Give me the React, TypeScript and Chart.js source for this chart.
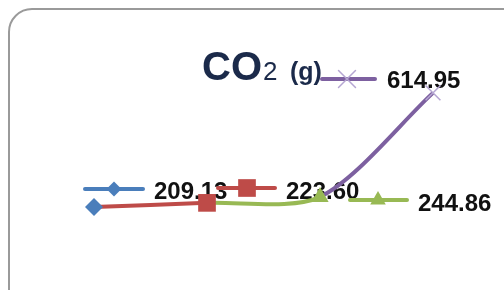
import React, { useEffect, useRef } from 'react';
import { Chart, registerables } from 'chart.js';

Chart.register(...registerables);

// ---- data ----
const categories = ['1', '2', '3', '4'];
const values = [209.13, 223.6, 244.86, 614.95];
const legendLabels = values.map((v) => v.toFixed(2));
const yMin = 0;
const yMax = 700;

// ---- styles ----
const seriesColors = ['#4A7EBB', '#BE4B48', '#98B954', '#7D60A0'];
const markerStroke = ['#4A7EBB', '#BE4B48', '#98B954', '#B5A6D2'];
const pointStyles = ['rectRot', 'rect', 'triangle', 'crossRot'];
const dataRadii = [9, 12.5, 10, 10.5];
const legendRadii = [7.5, 12.5, 9, 12];
const titleColor = '#1B2A4A';

// ---- layout of the free-floating legend (Excel style) ----
const legendLayout = [
  { x0: 85, x1: 143, y: 189, mx: 114, tx: 154, ty: 199 },
  { x0: 218, x1: 275, y: 188, mx: 247, tx: 286, ty: 199 },
  { x0: 350, x1: 407, y: 200, mx: 378, tx: 418, ty: 211 },
  { x0: 322, x1: 375, y: 79, mx: 347, tx: 387, ty: 88 },
];

function drawMarker(ctx: CanvasRenderingContext2D, style: string, x: number, y: number, r: number, fill: string, stroke: string) {
  ctx.save();
  ctx.fillStyle = fill;
  ctx.strokeStyle = stroke;
  ctx.beginPath();
  if (style === 'rectRot') {
    ctx.moveTo(x, y - r);
    ctx.lineTo(x + r, y);
    ctx.lineTo(x, y + r);
    ctx.lineTo(x - r, y);
    ctx.closePath();
    ctx.fill();
  } else if (style === 'rect') {
    const s = Math.SQRT1_2 * r;
    ctx.rect(x - s, y - s, 2 * s, 2 * s);
    ctx.fill();
  } else if (style === 'triangle') {
    const h = 1.5 * r;
    const half = (Math.sqrt(3) / 2) * r;
    ctx.moveTo(x, y - r);
    ctx.lineTo(x + half, y + h - r);
    ctx.lineTo(x - half, y + h - r);
    ctx.closePath();
    ctx.fill();
  } else {
    const s = Math.SQRT1_2 * r;
    ctx.lineWidth = 1.5;
    ctx.moveTo(x - s, y - s);
    ctx.lineTo(x + s, y + s);
    ctx.moveTo(x + s, y - s);
    ctx.lineTo(x - s, y + s);
    ctx.stroke();
  }
  ctx.restore();
}

const decorPlugin = {
  id: 'decor',
  beforeDatasetsDraw(chart: any) {
    const ctx: CanvasRenderingContext2D = chart.ctx;
    ctx.save();
    // rounded frame (extends past right/bottom edge)
    ctx.strokeStyle = '#9A9A9A';
    ctx.lineWidth = 2;
    ctx.beginPath();
    (ctx as any).roundRect(9, 9, 530, 310, 23);
    ctx.stroke();

    // title CO2 (g)
    ctx.fillStyle = titleColor;
    ctx.textBaseline = 'alphabetic';
    ctx.font = 'bold 40px "Liberation Sans", Arial, sans-serif';
    ctx.fillText('CO', 202, 80);
    const w1 = ctx.measureText('CO').width;
    ctx.font = '26px "Liberation Sans", Arial, sans-serif';
    ctx.fillText('2', 202 + w1 + 1, 80);
    ctx.font = 'bold 25px "Liberation Sans", Arial, sans-serif';
    ctx.fillText('(g)', 290, 80);

    // legend entries
    legendLayout.forEach((p, i) => {
      ctx.strokeStyle = seriesColors[i];
      ctx.lineWidth = 4;
      ctx.lineCap = 'round';
      ctx.beginPath();
      ctx.moveTo(p.x0, p.y);
      ctx.lineTo(p.x1, p.y);
      ctx.stroke();
      drawMarker(ctx, pointStyles[i], p.mx, p.y, legendRadii[i], seriesColors[i], markerStroke[i]);
      ctx.fillStyle = '#111111';
      ctx.font = 'bold 24px "Liberation Sans", Arial, sans-serif';
      ctx.fillText(legendLabels[i], p.tx, p.ty);
    });
    ctx.restore();
  },
};

export default function App() {
  const ref = useRef<HTMLCanvasElement | null>(null);

  useEffect(() => {
    if (!ref.current) return;
    const chart = new Chart(ref.current, {
      type: 'line',
      data: {
        labels: categories,
        datasets: [
          {
            data: values,
            borderColor: seriesColors[1],
            borderWidth: 4,
            tension: 0.28,
            segment: {
              borderColor: (c: any) => seriesColors[c.p1DataIndex],
            },
            pointStyle: pointStyles as any,
            pointRadius: dataRadii,
            pointBackgroundColor: seriesColors,
            pointBorderColor: markerStroke,
            pointBorderWidth: [0, 0, 0, 1.5],
            clip: false as any,
          },
        ],
      },
      options: {
        animation: false,
        responsive: false,
        layout: { padding: { left: 37.5, right: 14.5, top: 69, bottom: 24.3 } },
        plugins: {
          legend: { display: false },
          title: { display: false },
          tooltip: { enabled: false },
        },
        scales: {
          x: { display: false, offset: true },
          y: { display: false, min: yMin, max: yMax },
        },
      },
      plugins: [decorPlugin],
    });
    return () => chart.destroy();
  }, []);

  return (
    <div style={{ position: 'fixed', left: 0, top: 0, width: 504, height: 290, background: '#ffffff', overflow: 'hidden' }}>
      <canvas ref={ref} width={504} height={290} style={{ display: 'block' }} />
    </div>
  );
}
